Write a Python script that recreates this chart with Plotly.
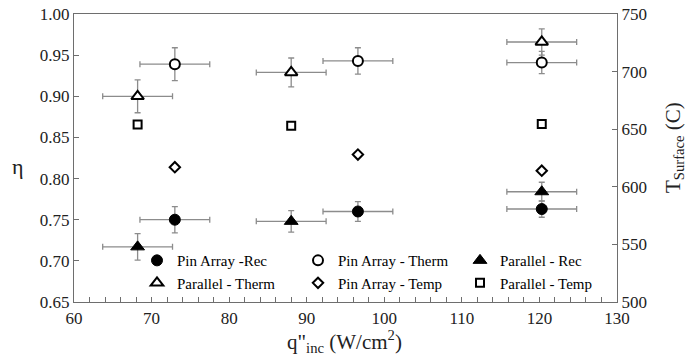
import plotly.graph_objects as go

# ---- data ----
pin_x = [73.0, 96.6, 120.3]
par_x = [68.2, 88.0, 120.3]
q_err = [4.5, 4.5, 4.5]

pin_rec = [0.750, 0.760, 0.763]
pin_rec_err = [0.016, 0.012, 0.010]
pin_therm = [0.939, 0.943, 0.941]
pin_therm_err = [0.020, 0.016, 0.0135]

par_rec = [0.717, 0.748, 0.784]
par_rec_err = [0.016, 0.013, 0.0115]
par_therm = [0.900, 0.929, 0.966]
par_therm_err = [0.020, 0.0175, 0.016]

pin_temp = [617, 628, 614]
par_temp = [654, 653, 654.5]

x_ticks = [60, 70, 80, 90, 100, 110, 120, 130]
y_ticks = [0.65, 0.70, 0.75, 0.80, 0.85, 0.90, 0.95, 1.00]
y2_ticks = [500, 550, 600, 650, 700, 750]

FONT = "Liberation Serif"
ERR = "#8c8c8c"
AX = "#6e6e6e"
TXT = "#222"

def ex():
    return dict(type="data", array=q_err, visible=True, color=ERR, thickness=1.3, width=3)

def ey(a):
    return dict(type="data", array=a, visible=True, color=ERR, thickness=1.3, width=3)

fig = go.Figure()
fig.add_trace(go.Scatter(x=pin_x, y=pin_rec, mode="markers", name="Pin Array -Rec", legend="legend",
    error_x=ex(), error_y=ey(pin_rec_err),
    marker=dict(symbol="circle", size=11, color="black", line=dict(color="black", width=1))))
fig.add_trace(go.Scatter(x=pin_x, y=pin_therm, mode="markers", name="Pin Array - Therm", legend="legend2",
    error_x=ex(), error_y=ey(pin_therm_err),
    marker=dict(symbol="circle", size=10, color="white", line=dict(color="black", width=2))))
fig.add_trace(go.Scatter(x=par_x, y=par_rec, mode="markers", name="Parallel - Rec", legend="legend3",
    error_x=ex(), error_y=ey(par_rec_err),
    marker=dict(symbol="triangle-up", size=12, color="black", line=dict(color="black", width=1))))
fig.add_trace(go.Scatter(x=par_x, y=par_therm, mode="markers", name="Parallel - Therm", legend="legend",
    error_x=ex(), error_y=ey(par_therm_err),
    marker=dict(symbol="triangle-up", size=11, color="white", line=dict(color="black", width=2))))
fig.add_trace(go.Scatter(x=pin_x, y=pin_temp, mode="markers", name="Pin Array - Temp", yaxis="y2", legend="legend2",
    marker=dict(symbol="diamond", size=8, color="white", line=dict(color="black", width=2))))
fig.add_trace(go.Scatter(x=par_x, y=par_temp, mode="markers", name="Parallel - Temp", yaxis="y2", legend="legend3",
    marker=dict(symbol="square", size=8, color="white", line=dict(color="black", width=2))))

def leg(xpx):
    return dict(orientation="v", x=(xpx - 74) / 543, xanchor="left", y=0.01, yanchor="bottom",
                bgcolor="rgba(0,0,0,0)", font=dict(family=FONT, size=15, color="black"),
                itemwidth=30, tracegroupgap=0, traceorder="normal")

fig.update_layout(
    width=689, height=356,
    margin=dict(l=74, r=72, t=14, b=54),
    paper_bgcolor="white", plot_bgcolor="white",
    font=dict(family=FONT, color=TXT, size=17),
    showlegend=True,
    legend=leg(137),
    legend2=leg(298),
    legend3=leg(460),
    xaxis=dict(range=[60, 130], tickvals=x_ticks, showgrid=False, zeroline=False,
               showline=True, linecolor=AX, linewidth=1.3, mirror=True,
               ticks="inside", ticklen=5, tickcolor=AX,
               minor=dict(dtick=2, ticks="inside", ticklen=5, tickcolor=AX, showgrid=False),
               tickfont=dict(family=FONT, size=17, color=TXT), automargin=False),
    yaxis=dict(range=[0.65, 1.0], tickvals=y_ticks, tickformat=".2f", showgrid=False, zeroline=False,
               showline=True, linecolor=AX, linewidth=1.3, automargin=False,
               ticks="inside", ticklen=5, tickcolor=AX,
               tickfont=dict(family=FONT, size=17, color=TXT)),
    yaxis2=dict(range=[500, 750], tickvals=y2_ticks, overlaying="y", side="right",
                showgrid=False, zeroline=False, showline=True, linecolor=AX, linewidth=1.3,
                ticks="inside", ticklen=5, tickcolor=AX, automargin=False,
                tickfont=dict(family=FONT, size=17, color=TXT)),
    annotations=[
        dict(text="η", xref="paper", yref="paper", x=-0.104, y=0.47,
             xanchor="center", yanchor="middle", showarrow=False,
             font=dict(family=FONT, size=22, color=TXT)),
        dict(text='q"<sub>inc</sub> (W/cm<sup>2</sup>)', xref="paper", yref="paper",
             x=0.499, y=-0.136, xanchor="center", yanchor="middle", showarrow=False,
             font=dict(family=FONT, size=21, color=TXT)),
        dict(text="T<sub>Surface</sub> (C)", xref="paper", yref="paper",
             x=1.104, y=0.536, xanchor="center", yanchor="middle", textangle=-90,
             showarrow=False, font=dict(family=FONT, size=21, color=TXT)),
    ],
)

fig.write_html("out.html")
